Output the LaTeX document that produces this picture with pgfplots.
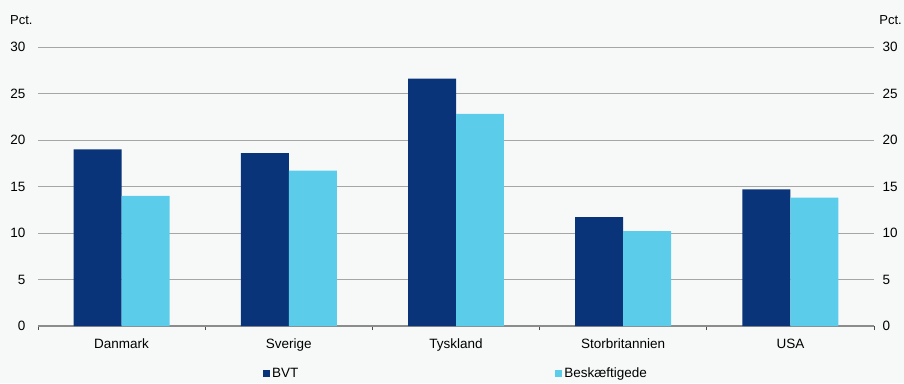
\documentclass[border=0pt]{standalone}
\usepackage{pgfplots}
\pgfplotsset{compat=1.18}
\usepackage{fontspec}
\setmainfont{Liberation Sans}
\definecolor{bvt}{HTML}{0A347A}
\definecolor{besk}{HTML}{5BCDEB}
\definecolor{bg}{HTML}{F7F9F9}
\definecolor{gridc}{HTML}{A6A6A6}
\definecolor{axc}{HTML}{8C8C8C}
\begin{document}
\fontsize{13.5}{16}\selectfont
\begin{tikzpicture}
\fill[bg] (0,0) rectangle (904pt,383pt);
\begin{axis}[
  at={(38pt,57pt)}, anchor=south west,
  scale only axis, width=836pt, height=279pt,
  xmin=-0.5, xmax=4.5, ymin=0, ymax=30,
  ytick={0,5,...,30},
  xtick={-0.5,0.5,...,4.5},
  xticklabels={},
  extra x ticks={0,1,2,3,4},
  extra x tick labels={Danmark,Sverige,Tyskland,Storbritannien,USA},
  extra x tick style={x tick style={draw=none}, xticklabel style={font=\fontsize{13.5}{16}\selectfont, yshift=-4pt}},
  axis x line*=bottom,
  axis y line*=left,
  y axis line style={draw=none},
  x axis line style={draw=axc, line width=1.2pt, -},
  x tick style={draw=black!70, line width=0.9pt},
  y tick style={draw=none},
  major tick length=4pt,
  tick align=outside,
  ymajorgrids, grid style={draw=gridc, line width=0.9pt},
  yticklabel style={font=\fontsize{13.5}{16}\selectfont, xshift=-4pt},
  /pgf/number format/assume math mode=true,
  legend style={at={(0.5,-0.172)}, anchor=center, draw=none, fill=none,
    font=\fontsize{13.5}{16}\selectfont, legend columns=2,
    /tikz/every even column/.append style={column sep=255pt}},
  legend image code/.code={\fill[#1] (0pt,-3.5pt) rectangle (7pt,3.5pt);},
  clip=false,
]
\addplot[ybar, bar width=0.287, bar shift=-0.1435, fill=bvt, draw=none] coordinates {(0,19.0) (1,18.6) (2,26.6) (3,11.7) (4,14.7)};
\addlegendentry{BVT}
\addplot[ybar, bar width=0.287, bar shift=0.1435, fill=besk, draw=none] coordinates {(0,14.0) (1,16.7) (2,22.8) (3,10.2) (4,13.8)};
\addlegendentry{Beskæftigede}
\end{axis}
\begin{axis}[
  at={(38pt,57pt)}, anchor=south west,
  scale only axis, width=836pt, height=279pt,
  xmin=-0.5, xmax=4.5, ymin=0, ymax=30,
  ytick={0,5,...,30},
  axis x line=none,
  axis y line*=right,
  y axis line style={draw=none},
  y tick style={draw=none},
  yticklabel style={font=\fontsize{13.5}{16}\selectfont, xshift=4pt},
  /pgf/number format/assume math mode=true,
]
\addplot[draw=none] coordinates {(0,0)};
\end{axis}
\node[anchor=west, inner sep=0pt, font=\fontsize{13}{15}\selectfont] at (10pt,363pt) {Pct.};
\node[anchor=east, inner sep=0pt, font=\fontsize{13}{15}\selectfont] at (902pt,363pt) {Pct.};
\end{tikzpicture}
\end{document}
